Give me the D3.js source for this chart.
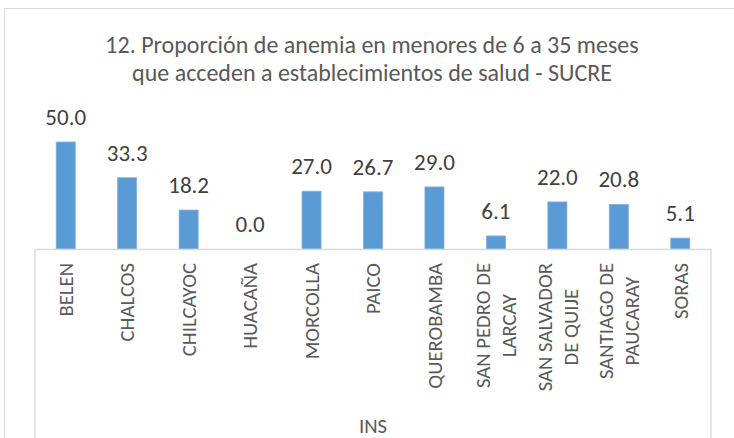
<!DOCTYPE html>
<html>
<head>
<meta charset="utf-8">
<script src="https://cdn.jsdelivr.net/npm/d3@7"></script>
<style>
  body { margin: 0; background: #fff; }
  svg { display: block; font-family: Carlito, Lato, "Open Sans", sans-serif; }
</style>
</head>
<body>
<svg id="chart"></svg>
<script>
const width = 734;
const height = 438;

// data
const districts = ['BELEN', 'CHALCOS', 'CHILCAYOC', 'HUACAÑA', 'MORCOLLA', 'PAICO', 'QUEROBAMBA',
  'SAN PEDRO DE\nLARCAY', 'SAN SALVADOR\nDE QUIJE', 'SANTIAGO DE\nPAUCARAY', 'SORAS'];
const anemia = [50.0, 33.3, 18.2, 0.0, 27.0, 26.7, 29.0, 6.1, 22.0, 20.8, 5.1];
const group_label = 'INS';
const title_lines = ['12. Proporción de anemia en menores de 6 a 35 meses',
  'que acceden a establecimientos de salud - SUCRE'];

const plot = { left: 35, right: 711, top: 120.6, base: 249 };
const grid_color = '#d9d9d9';
const label_size = 20.7;

const svg = d3.select('#chart')
  .attr('width', width)
  .attr('height', height);

// outer chart frame, runs off the bottom/right edge like the screenshot
svg.append('rect')
  .attr('x', 4.5).attr('y', 8.5)
  .attr('width', 800).attr('height', 500)
  .attr('fill', 'none')
  .attr('stroke', grid_color);

svg.append('g').selectAll('text')
    .data(title_lines)
  .enter().append('text')
    .attr('x', 372)
    .attr('y', (d, i) => 53 + i * 28)
    .attr('text-anchor', 'middle')
    .attr('fill', '#595959')
    .style('font-size', '24px')
    .text((d) => d);

const x = d3.scaleBand()
  .domain(districts)
  .range([plot.left, plot.right]);

const y = d3.scaleLinear()
  .domain([0, 60])
  .range([plot.base, plot.top]);

const bar_w = x.bandwidth() * 0.31;

svg.append('g').selectAll('rect')
    .data(anemia)
  .enter().append('rect')
    .attr('x', (d, i) => x(districts[i]) + (x.bandwidth() - bar_w) / 2)
    .attr('y', (d) => y(d))
    .attr('width', bar_w)
    .attr('height', (d) => plot.base - y(d))
    .attr('fill', '#5b9bd5')
    .attr('stroke', '#7fb0de')
    .attr('stroke-width', 0.8);

svg.append('g').selectAll('text')
    .data(anemia)
  .enter().append('text')
    .attr('x', (d, i) => x(districts[i]) + x.bandwidth() / 2)
    .attr('y', (d) => y(d) - 17)
    .attr('text-anchor', 'middle')
    .attr('fill', '#404040')
    .style('font-size', '23px')
    .text((d) => d.toFixed(1));

// category axis: baseline plus the two outer vertical rules
const axis = svg.append('g')
  .attr('stroke', grid_color)
  .attr('stroke-width', 1.3);
axis.append('line')
  .attr('x1', plot.left).attr('x2', plot.right)
  .attr('y1', plot.base + 0.5).attr('y2', plot.base + 0.5);
axis.selectAll('.edge')
    .data([plot.left, plot.right])
  .enter().append('line')
    .attr('x1', (d) => d).attr('x2', (d) => d)
    .attr('y1', plot.base).attr('y2', height);

// rotated labels, block top-aligned just under the axis, lines centred within the block
const label_top = 263;
const line_gap = 26;
const labels = svg.append('g').selectAll('g')
    .data(districts)
  .enter().append('g')
    .style('font-size', `${label_size}px`)
    .attr('fill', '#595959');

labels.each(function (d) {
  const g = d3.select(this);
  const lines = d.split('\n');
  const texts = lines.map((ln, i) => g.append('text')
    .attr('text-anchor', 'middle')
    .attr('dy', `${(i - (lines.length - 1) / 2) * line_gap / label_size + 0.35}em`)
    .text(ln));
  const longest = d3.max(texts, (t) => t.node().getComputedTextLength());
  g.attr('transform', `translate(${x(d) + x.bandwidth() / 2}, ${label_top + longest / 2}) rotate(-90)`);
});

svg.append('text')
  .attr('x', (plot.left + plot.right) / 2)
  .attr('y', 433)
  .attr('text-anchor', 'middle')
  .attr('fill', '#595959')
  .style('font-size', `${label_size}px`)
  .text(group_label);
</script>
</body>
</html>
